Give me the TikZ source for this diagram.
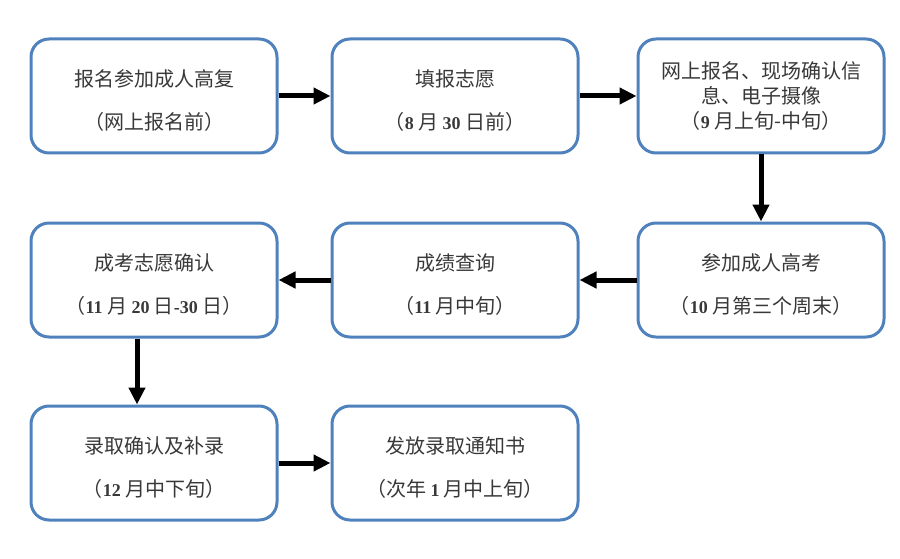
\documentclass[tikz,border=0pt]{standalone}
\usepackage{fontspec}
\newfontfamily\cjk{Noto Sans CJK SC}
\newfontfamily\numfont{Liberation Serif}
\usetikzlibrary{arrows.meta}
\definecolor{boxblue}{RGB}{79,129,189}
\newcommand{\nm}[1]{{\numfont\bfseries\fontsize{18}{25}\selectfont #1}}
\newcommand{\tl}{\rule{0pt}{26pt}}
\tikzset{
  stepbox/.style={draw=boxblue, line width=3pt, rounded corners=18pt,
    minimum width=246pt, minimum height=114pt, align=center,
    font=\cjk\fontsize{20}{25}\selectfont, text=black!78},
  flow/.style={-{Triangle[length=17pt,width=16pt]}, line width=5pt}
}
\begin{document}
\begin{tikzpicture}[x=1pt,y=-1pt]
  \useasboundingbox (0,0) rectangle (900,559);

  % first row
  \node[stepbox] (A) at (154,96) {\tl 报名参加成人高复\\[18pt]（网上报名前）};
  \node[stepbox] (B) at (455,96) {\tl 填报志愿\\[18pt]（\nm{8} 月 \nm{30} 日前）};
  \node[stepbox] (C) at (761,96) {网上报名、现场确认信\\息、电子摄像\\（\nm{9} 月上旬-中旬）};

  % second row
  \node[stepbox] (D) at (154,280) {\tl 成考志愿确认\\[18pt]（\nm{11} 月 \nm{20} 日\nm{-30} 日）};
  \node[stepbox] (E) at (455,280) {\tl 成绩查询\\[18pt]（\nm{11} 月中旬）};
  \node[stepbox] (F) at (761,280) {\tl 参加成人高考\\[18pt]（\nm{10} 月第三个周末）};

  % third row
  \node[stepbox] (G) at (154,463) {\tl 录取确认及补录\\[18pt]（\nm{12} 月中下旬）};
  \node[stepbox] (H) at (455,463) {\tl 发放录取通知书\\[18pt]（次年 \nm{1} 月中上旬）};

  \draw[flow] (A) -- (B);
  \draw[flow] (B) -- (C);
  \draw[flow] (C) -- (F);
  \draw[flow] (F) -- (E);
  \draw[flow] (E) -- (D);
  \draw[flow] ([xshift=-17pt]D.south) -- ([xshift=-17pt]G.north);
  \draw[flow] (G) -- (H);
\end{tikzpicture}
\end{document}
